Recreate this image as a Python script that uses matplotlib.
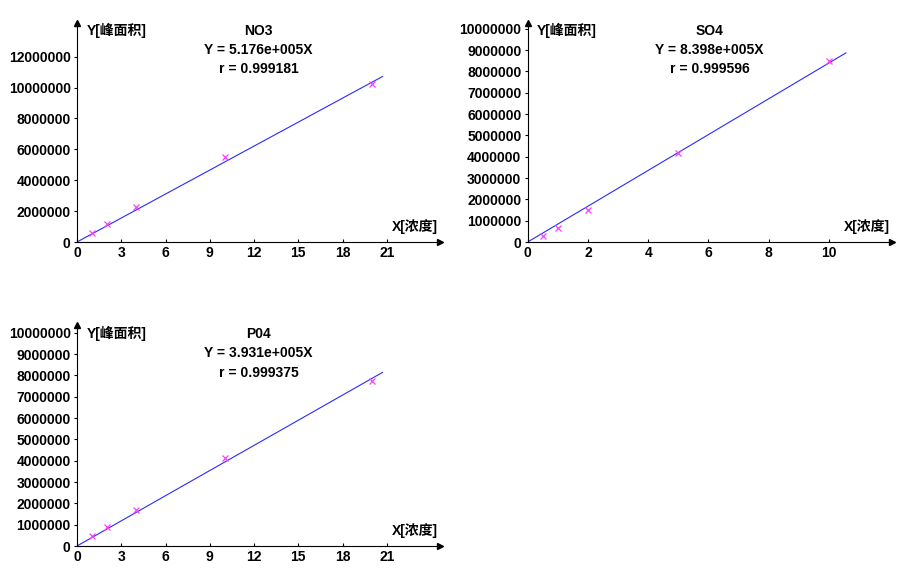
import matplotlib
matplotlib.use("Agg")
import matplotlib.pyplot as plt
from matplotlib.ticker import FuncFormatter

plt.rcParams['font.family'] = ['Liberation Sans', 'Noto Sans CJK SC', 'DejaVu Sans']

# ---- data ----
names = ["NO3", "SO4", "P04"]
equations = ["Y = 5.176e+005X", "Y = 8.398e+005X", "Y = 3.931e+005X"]
r_texts = ["r = 0.999181", "r = 0.999596", "r = 0.999375"]
slopes = [5.176e5, 8.398e5, 3.931e5]

no3_x = [1, 2, 4, 10, 20]
no3_y = [0.58e6, 1.18e6, 2.26e6, 5.52e6, 10.24e6]
so4_x = [0.5, 1, 2, 5, 10]
so4_y = [0.30e6, 0.64e6, 1.52e6, 4.17e6, 8.50e6]
po4_x = [1, 2, 4, 10, 20]
po4_y = [0.48e6, 0.875e6, 1.70e6, 4.13e6, 7.73e6]

line_end = [20.7, 10.56, 20.7]
x_ticks = [[0, 3, 6, 9, 12, 15, 18, 21], [0, 2, 4, 6, 8, 10], [0, 3, 6, 9, 12, 15, 18, 21]]
y_ticks = [[0, 2e6, 4e6, 6e6, 8e6, 10e6, 12e6],
           [i * 1e6 for i in range(11)],
           [i * 1e6 for i in range(11)]]
x_lims = [24.6, 12.08, 24.6]
y_lims = [14.18e6, 10.27e6, 10.36e6]
ylabel = "Y[峰面积]"
xlabel = "X[浓度]"

W, H = 904, 579
fig = plt.figure(figsize=(W / 100, H / 100), dpi=100)

# axes boxes in pixels: (left, bottom_y, right, top_y)
boxes = [(77, 242, 440, 23), (527.7, 242, 891.7, 23), (77, 546, 440, 325)]
# text rows (pixel offsets below axes top): title, equation, r, y-label
text_rows = [(7.7, 26.5, 46.3, 7.7), (7.7, 26.5, 46.3, 7.7), (9.0, 28.3, 48.3, 8.5)]
datas = [(no3_x, no3_y), (so4_x, so4_y), (po4_x, po4_y)]

fmt = FuncFormatter(lambda v, p: f"{int(round(v))}")

for i in range(3):
    l, b, r, t = boxes[i]
    w_px, h_px = r - l, b - t
    ax = fig.add_axes([l / W, 1 - b / H, w_px / W, h_px / H])
    xs, ys = datas[i]
    ax.plot([0, line_end[i]], [0, slopes[i] * line_end[i]], color='#2a2aff', lw=0.8, zorder=2)
    ax.plot(xs, ys, linestyle='none', marker='x', color='#ff3cff', markersize=4.5, mew=0.9, zorder=3)
    ax.set_xlim(0, x_lims[i])
    ax.set_ylim(0, y_lims[i])
    ax.set_xticks(x_ticks[i])
    ax.set_yticks(y_ticks[i])
    ax.yaxis.set_major_formatter(fmt)
    for s in ['top', 'right']:
        ax.spines[s].set_visible(False)
    for s in ['left', 'bottom']:
        ax.spines[s].set_linewidth(0.8)
        ax.spines[s].set_color('black')
    ax.tick_params(axis='x', direction='in', length=2.5, width=0.8, pad=3, labelsize=10)
    ax.tick_params(axis='y', direction='out', length=2.5, width=0.8, pad=2, labelsize=10)
    for lab in ax.get_xticklabels() + ax.get_yticklabels():
        lab.set_fontweight('bold')
    ax.plot(1, 0, '>', color='black', markersize=4, transform=ax.transAxes, clip_on=False)
    ax.plot(0, 1, '^', color='black', markersize=4, transform=ax.transAxes, clip_on=False)
    ax.set_facecolor('white')
    fs = 10
    r1, r2, r3, r4 = text_rows[i]
    ax.text(0.5, 1 - r1 / h_px, names[i], transform=ax.transAxes,
            ha='center', va='center', fontsize=fs, fontweight='bold')
    ax.text(0.5, 1 - r2 / h_px, equations[i], transform=ax.transAxes,
            ha='center', va='center', fontsize=fs, fontweight='bold')
    ax.text(0.5, 1 - r3 / h_px, r_texts[i], transform=ax.transAxes,
            ha='center', va='center', fontsize=fs, fontweight='bold')
    ax.text(9.5 / w_px, 1 - r4 / h_px, ylabel, transform=ax.transAxes,
            ha='left', va='center', fontsize=fs, fontweight='bold')
    ax.text(1 - 2 / w_px, 15 / h_px, xlabel, transform=ax.transAxes,
            ha='right', va='center', fontsize=fs, fontweight='bold')

fig.savefig("out.png", dpi=100, facecolor='white')
